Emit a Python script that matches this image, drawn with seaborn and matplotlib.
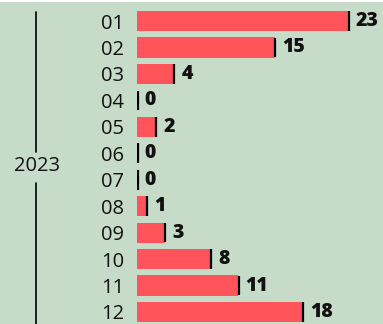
import matplotlib
matplotlib.use("Agg")
import matplotlib.pyplot as plt
import seaborn as sns
import pandas as pd

months = ["01", "02", "03", "04", "05", "06", "07", "08", "09", "10", "11", "12"]
counts = [23, 15, 4, 0, 2, 0, 0, 1, 3, 8, 11, 18]
year_label = "2023"

BG = "#c6dcc9"
BAR = "#ff545a"

sns.set_theme(style="white")
plt.rcParams["font.family"] = ["Open Sans", "DejaVu Sans"]

df = pd.DataFrame({"month": months, "count": counts})

W, H = 383, 324
fig = plt.figure(figsize=(W / 100, H / 100), dpi=100)
fig.patch.set_facecolor("white")

# green panel below a thin white strip
panel = fig.add_axes([0, 0, 1, (H - 2) / H])
panel.set_facecolor(BG)
panel.set_xticks([]); panel.set_yticks([])
for s in panel.spines.values():
    s.set_visible(False)
panel.set_xlim(0, W); panel.set_ylim(H - 2, 0)

# group bracket line and year label
panel.plot([36, 36], [10, 150], color="black", lw=1.2)
panel.plot([36, 36], [181, H], color="black", lw=1.2)
panel.text(37, 164, year_label, ha="center", va="center", fontsize=14.5, color="#111111")

# bar axes
left = 137
ax = fig.add_axes([left / W, 0, (W - left) / W, (H - 2) / H])
ax.patch.set_alpha(0)
sns.barplot(data=df, y="month", x="count", orient="h", color=BAR,
            width=0.76, saturation=1, ax=ax, edgecolor="none")
ppu = 9.17
ax.set_xlim(0, (W - left) / ppu)
step = 26.45
ax.set_ylim(11 + 12 / step, -(21 - 2) / step)
for s in ax.spines.values():
    s.set_visible(False)
ax.set_xlabel(""); ax.set_ylabel("")
ax.set_xticks([])
ax.tick_params(axis="y", length=0, pad=9, labelsize=14.5, labelcolor="#111111")

for i, v in enumerate(counts):
    ax.plot([v + 0.08, v + 0.08], [i - 0.37, i + 0.37], color="black", lw=1.6,
            solid_capstyle="butt")
    ax.text(v + 0.85, i, str(v), ha="left", va="center", fontsize=14,
            fontweight="heavy", color="#111111")

fig.savefig("out.png", dpi=100, facecolor=fig.get_facecolor())
